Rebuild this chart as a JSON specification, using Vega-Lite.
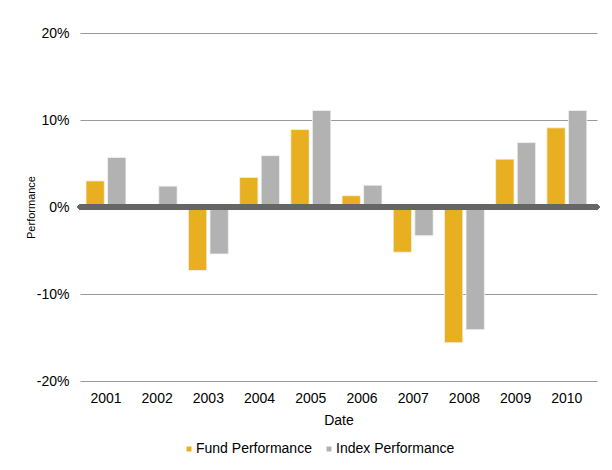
{
  "$schema": "https://vega.github.io/schema/vega-lite/v6.json",
  "autosize": "none",
  "width": 517,
  "height": 348,
  "padding": {"left": 80, "top": 33, "right": 15, "bottom": 89},
  "background": "white",
  "config": {
    "font": "Liberation Sans",
    "view": {"stroke": null},
    "axis": {"labelFont": "Liberation Sans", "titleFont": "Liberation Sans", "labelColor": "#000", "titleColor": "#000", "titleFontWeight": "normal"}
  },
  "data": {
    "values": [
      {"Date": "2001", "Series": "Fund Performance", "Value": 0.030},
      {"Date": "2001", "Series": "Index Performance", "Value": 0.057},
      {"Date": "2002", "Series": "Fund Performance", "Value": 0.0},
      {"Date": "2002", "Series": "Index Performance", "Value": 0.024},
      {"Date": "2003", "Series": "Fund Performance", "Value": -0.073},
      {"Date": "2003", "Series": "Index Performance", "Value": -0.054},
      {"Date": "2004", "Series": "Fund Performance", "Value": 0.034},
      {"Date": "2004", "Series": "Index Performance", "Value": 0.059},
      {"Date": "2005", "Series": "Fund Performance", "Value": 0.089},
      {"Date": "2005", "Series": "Index Performance", "Value": 0.111},
      {"Date": "2006", "Series": "Fund Performance", "Value": 0.013},
      {"Date": "2006", "Series": "Index Performance", "Value": 0.025},
      {"Date": "2007", "Series": "Fund Performance", "Value": -0.052},
      {"Date": "2007", "Series": "Index Performance", "Value": -0.033},
      {"Date": "2008", "Series": "Fund Performance", "Value": -0.156},
      {"Date": "2008", "Series": "Index Performance", "Value": -0.141},
      {"Date": "2009", "Series": "Fund Performance", "Value": 0.055},
      {"Date": "2009", "Series": "Index Performance", "Value": 0.074},
      {"Date": "2010", "Series": "Fund Performance", "Value": 0.091},
      {"Date": "2010", "Series": "Index Performance", "Value": 0.111}
    ]
  },
  "layer": [
    {
      "mark": {"type": "bar", "stroke": "#f3f3f3", "strokeWidth": 0.8},
      "encoding": {
        "x": {
          "field": "Date", "type": "nominal",
          "scale": {"paddingInner": 0.22, "paddingOuter": 0.158, "align": 0.37},
          "axis": {"title": "Date", "labelAngle": 0, "labelFontSize": 14, "titleFontSize": 14, "ticks": false, "domain": false, "labelPadding": 10, "titlePadding": 8}
        },
        "xOffset": {"field": "Series", "type": "nominal", "scale": {"paddingInner": 0.15, "paddingOuter": 0}},
        "y": {
          "field": "Value", "type": "quantitative",
          "scale": {"domain": [-0.2, 0.2], "nice": false},
          "axis": {"title": "Performance", "labelExpr": "replace(format(datum.value, '.0%'), '\u2212', '-')", "values": [-0.2, -0.1, 0, 0.1, 0.2], "labelFontSize": 14, "titleFontSize": 11, "ticks": false, "domain": false, "labelPadding": 11, "titlePadding": 0, "gridColor": "#9a9a9a", "gridWidth": 1.2}
        },
        "color": {
          "field": "Series", "type": "nominal",
          "scale": {"domain": ["Fund Performance", "Index Performance"], "range": ["#E8B021", "#B2B2B2"]},
          "legend": {"title": null, "orient": "none", "direction": "horizontal", "legendX": 102, "legendY": 409, "symbolType": "square", "symbolSize": 25, "symbolStrokeWidth": 0, "labelFontSize": 14, "labelColor": "#000", "labelFont": "Liberation Sans", "columnPadding": 10, "labelOffset": 0}
        }
      }
    },
    {
      "mark": {"type": "rule", "color": "#666666", "strokeWidth": 4.5, "strokeCap": "round"},
      "encoding": {"y": {"datum": 0}}
    }
  ]
}
